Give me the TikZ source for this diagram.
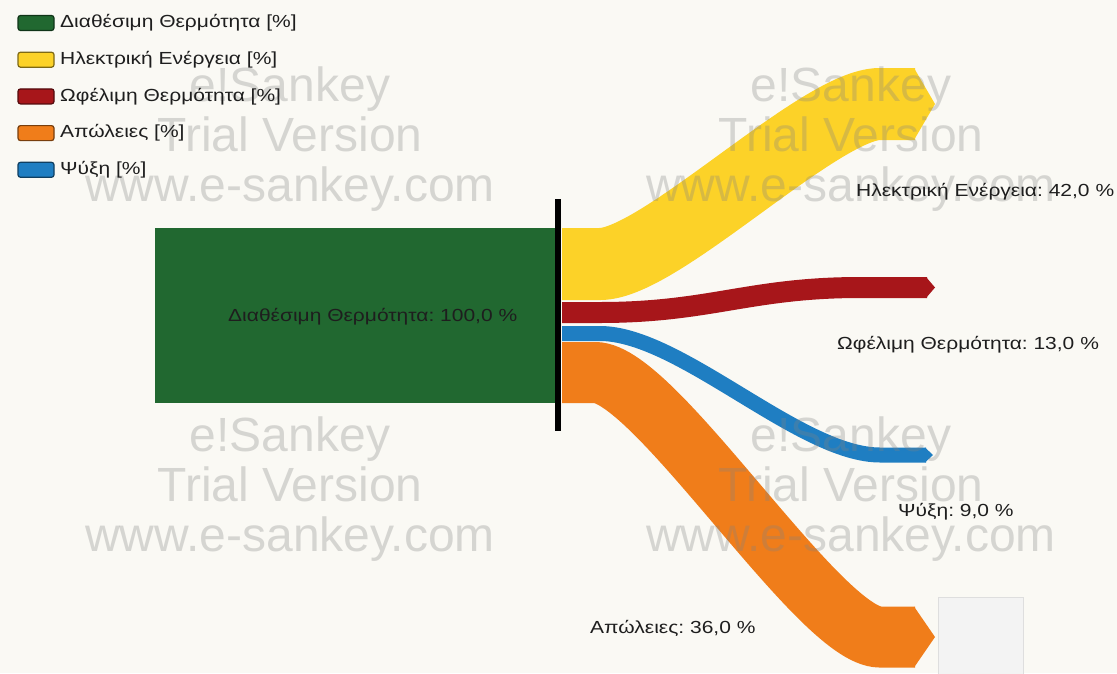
\documentclass[tikz,border=0pt]{standalone}
\usepackage{fontspec}
\setmainfont{Liberation Sans}
\newfontfamily\labelfont[FakeStretch=1.2]{Liberation Sans}
\definecolor{bgcol}{RGB}{250,249,244}
\definecolor{cGreen}{RGB}{33,104,48}
\definecolor{cYellow}{RGB}{252,210,40}
\definecolor{cRed}{RGB}{167,22,26}
\definecolor{cBlue}{RGB}{31,126,194}
\definecolor{cOrange}{RGB}{240,125,26}
\definecolor{wmgray}{RGB}{130,130,130}
\definecolor{boxfill}{RGB}{243,243,243}
\definecolor{boxline}{RGB}{222,222,222}
\definecolor{txt}{RGB}{30,30,30}
\begin{document}
\frenchspacing
\begin{tikzpicture}[x=1pt,y=-1pt,
  lbl/.style={font=\labelfont\fontsize{17.5}{20}\selectfont, text=txt, inner sep=0pt, anchor=west},
  wm/.style={font=\fontsize{48}{50}\selectfont, text=wmgray, text opacity=0.3, inner sep=0pt, anchor=base},
  band/.style={line width=#1, line cap=butt},
  swatch/.style={draw=#1!50!black, fill=#1, line width=1.2pt, rounded corners=2.5pt,
    minimum width=36pt, minimum height=15pt, inner sep=0pt}
]
\clip (0,0) rectangle (1117,673);
\fill[bgcol] (0,0) rectangle (1117,673);

% source block
\node[fill=cGreen, minimum width=401pt, minimum height=175pt, inner sep=0pt, anchor=north west] (src) at (155,228) {};

% flow start and end points
\coordinate (yS) at (562,264);   \coordinate (yA) at (600,264);   \coordinate (yB) at (880,104);   \coordinate (yE) at (915,104);
\coordinate (rS) at (562,312.5); \coordinate (rA) at (600,312.5); \coordinate (rB) at (860,287.5); \coordinate (rE) at (927,287.5);
\coordinate (bS) at (562,333.5); \coordinate (bA) at (600,333.5); \coordinate (bB) at (880,455);   \coordinate (bE) at (926,455);
\coordinate (oS) at (562,372.5); \coordinate (oA) at (595,372.5); \coordinate (oB) at (880,637);   \coordinate (oE) at (915,637);

% bands
\draw[band=72pt, cYellow] (yS) -- (yA) .. controls +(60,0) and +(-60,0) .. (yB) -- (yE);
\fill[cYellow] (yE) ++(-1,-36) -- ++(21,36) -- ++(-21,36) -- cycle;
\draw[band=21pt, cRed] (rS) -- (rA) .. controls +(110,0) and +(-110,0) .. (rB) -- (rE);
\fill[cRed] (rE) ++(-1,-10.5) -- ++(9,10.5) -- ++(-9,10.5) -- cycle;
\draw[band=15pt, cBlue] (bS) -- (bA) .. controls +(80,0) and +(-80,0) .. (bB) -- (bE);
\fill[cBlue] (bE) ++(-1,-7.5) -- ++(8,7.5) -- ++(-8,7.5) -- cycle;
\draw[band=61pt, cOrange] (oS) -- (oA) .. controls +(60,0) and +(-60,0) .. (oB) -- (oE);
\fill[cOrange] (oE) ++(-1,-30.5) -- ++(21,30.5) -- ++(-21,30.5) -- cycle;

% junction bar
\node[fill=black, minimum width=6pt, minimum height=232pt, inner sep=0pt] (bar) at (558,315) {};

% blank panel
\node[draw=boxline, fill=boxfill, line width=1pt, minimum width=85pt, minimum height=90pt,
  inner sep=0pt, anchor=north west] (panel) at (938,597) {};

% watermark
\foreach \cx/\cy [count=\i] in {290/0, 851/0, 290/350, 851/350} {
  \node[wm] (wa\i) at (\cx,101+\cy) {e!Sankey};
  \node[wm] (wb\i) at (\cx,151+\cy) {Trial Version};
  \node[wm] (wc\i) at (\cx,201+\cy) {www.e-sankey.com};
}

% labels
\node[lbl] (lsrc) at (228,317) {Διαθέσιμη Θερμότητα: 100,0 \%};
\node[lbl] (lel)  at (856,192) {Ηλεκτρική Ενέργεια: 42,0 \%};
\node[lbl] (lth)  at (837,345) {Ωφέλιμη Θερμότητα: 13,0 \%};
\node[lbl] (lco)  at (898,512) {Ψύξη: 9,0 \%};
\node[lbl] (llo)  at (590,628) {Απώλειες: 36,0 \%};

% legend
\foreach \c/\t [count=\i] in {cGreen/Διαθέσιμη Θερμότητα, cYellow/Ηλεκτρική Ενέργεια,
    cRed/Ωφέλιμη Θερμότητα, cOrange/Απώλειες, cBlue/Ψύξη} {
  \node[swatch=\c] (sw\i) at (36,23+36.7*\i-36.7) {};
  \node[lbl] (lg\i) at (60,23+36.7*\i-36.7) {\t\ [\%]};
}
\end{tikzpicture}
\end{document}
